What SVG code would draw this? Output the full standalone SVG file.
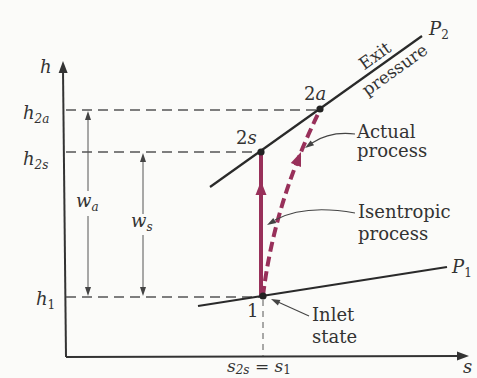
<svg xmlns="http://www.w3.org/2000/svg" width="477" height="378" viewBox="0 0 477 378">
<defs>
<style>
text{font-family:"DejaVu Serif","Liberation Serif",serif;fill:#333;}
.lbl{font-size:18px;}
.it{font-style:italic;}
.sub{font-size:12px;}
.axis{stroke:#333;stroke-width:2;fill:none;}
.dash{stroke:#555;stroke-width:1.6;stroke-dasharray:10 6;fill:none;}
.pline{stroke:#2a2a2a;stroke-width:2.2;fill:none;}
.dim{stroke:#555;stroke-width:1;fill:none;}
.lead{stroke:#444;stroke-width:1.1;fill:none;}
.proc{stroke:#98305a;stroke-width:4;fill:none;}
</style>
<path id="ahBig" d="M0,0 L-14,-5.5 L-14,5.5 Z"/>
<path id="ahSmall" d="M0,0 L-9,-3 L-9,3 Z"/>
<path id="ahAxis" d="M0,0 L-12,-4.5 L-12,4.5 Z"/>
</defs>
<rect width="477" height="378" fill="#fbfbf9"/>

<g id="axes">
<line class="axis" x1="66" y1="357" x2="63" y2="70"/>
<use href="#ahAxis" transform="translate(63,61) rotate(-90.6)" fill="#333"/>
<line class="axis" x1="66" y1="357" x2="460" y2="356"/>
<use href="#ahAxis" transform="translate(469,356) rotate(0)" fill="#333"/>
<text class="lbl it" x="40" y="73">h</text>
<text class="lbl it" x="463" y="373">s</text>
</g>

<g id="connectors">
<line class="dash" x1="66" y1="110" x2="318" y2="110"/>
<line class="dash" x1="66" y1="152" x2="258" y2="152"/>
<line class="dash" x1="66" y1="297" x2="262" y2="297"/>
<line class="dim" x1="263" y1="300" x2="263" y2="356" stroke-dasharray="6 5"/>
<line class="dim" x1="88" y1="118" x2="88" y2="191"/>
<line class="dim" x1="88" y1="216" x2="88" y2="289"/>
<use href="#ahSmall" transform="translate(88,111) rotate(-90)" fill="#444"/>
<use href="#ahSmall" transform="translate(88,296) rotate(90)" fill="#444"/>
<line class="dim" x1="143" y1="160" x2="143" y2="214"/>
<line class="dim" x1="143" y1="235" x2="143" y2="289"/>
<use href="#ahSmall" transform="translate(143,153) rotate(-90)" fill="#444"/>
<use href="#ahSmall" transform="translate(143,296) rotate(90)" fill="#444"/>
<line class="proc" x1="261" y1="296" x2="261" y2="154"/>
<use href="#ahBig" transform="translate(261,181) rotate(-90)" fill="#98305a"/>
<path class="proc" d="M263,296 Q274,203 320,110" stroke-dasharray="10 5"/>
<use href="#ahBig" transform="translate(301,152) rotate(-68.6)" fill="#98305a"/>
<path class="lead" d="M355,134 Q330,131 312,143"/>
<use href="#ahSmall" transform="translate(305,148) rotate(145)" fill="#444"/>
<path class="lead" d="M355,213 Q305,204 275,220"/>
<use href="#ahSmall" transform="translate(267,225) rotate(150)" fill="#444"/>
<path class="lead" d="M309,316 L278,302"/>
<use href="#ahSmall" transform="translate(271,299) rotate(-155)" fill="#444"/>
</g>

<g id="P2">
<line class="pline" x1="210" y1="187" x2="422" y2="36"/>
<text class="lbl it" x="429" y="35">P<tspan class="sub" font-style="normal" dy="4">2</tspan></text>
<g transform="translate(385,63) rotate(-35.5)">
<text font-size="17" text-anchor="middle" x="-4" y="-6">Exit</text>
<text font-size="17" text-anchor="middle" x="4" y="17">pressure</text>
</g>
</g>

<g id="P1">
<line class="pline" x1="198" y1="306" x2="447" y2="267"/>
<text class="lbl it" x="452" y="273">P<tspan class="sub" font-style="normal" dy="4">1</tspan></text>
</g>

<g id="state2a">
<circle cx="320" cy="109" r="3.6" fill="#222"/>
<text class="lbl" x="304" y="100">2<tspan class="it">a</tspan></text>
</g>
<g id="state2s">
<circle cx="261" cy="152" r="3.6" fill="#222"/>
<text class="lbl" x="236" y="144">2<tspan class="it">s</tspan></text>
</g>
<g id="state1">
<circle cx="263" cy="296" r="3.6" fill="#222"/>
<text class="lbl" x="247" y="317">1</text>
</g>

<g id="hlabels">
<text class="lbl it" x="23" y="119" font-size="19">h<tspan class="sub" dy="4">2a</tspan></text>
<text class="lbl it" x="23" y="165" font-size="19">h<tspan class="sub" dy="4">2s</tspan></text>
<text class="lbl it" x="36" y="305" font-size="19">h<tspan class="sub" font-style="normal" dy="4">1</tspan></text>
</g>

<g id="wlabels">
<text class="lbl it" x="76" y="207">w<tspan class="sub" dy="4">a</tspan></text>
<text class="lbl it" x="131" y="227">w<tspan class="sub" dy="4">s</tspan></text>
</g>

<g id="actual">
<text class="lbl" x="357" y="138">Actual</text>
<text class="lbl" x="357" y="157">process</text>
</g>
<g id="isentropic">
<text class="lbl" x="358" y="218">Isentropic</text>
<text class="lbl" x="358" y="240">process</text>
</g>
<g id="inlet">
<text class="lbl" x="312" y="321">Inlet</text>
<text class="lbl" x="312" y="343">state</text>
</g>
<g id="sEq">
<text class="it" font-size="17" x="227" y="372">s<tspan class="sub" dy="2">2s</tspan><tspan dy="-2" font-style="normal"> = </tspan>s<tspan class="sub" font-style="normal" dy="2">1</tspan></text>
</g>
</svg>
